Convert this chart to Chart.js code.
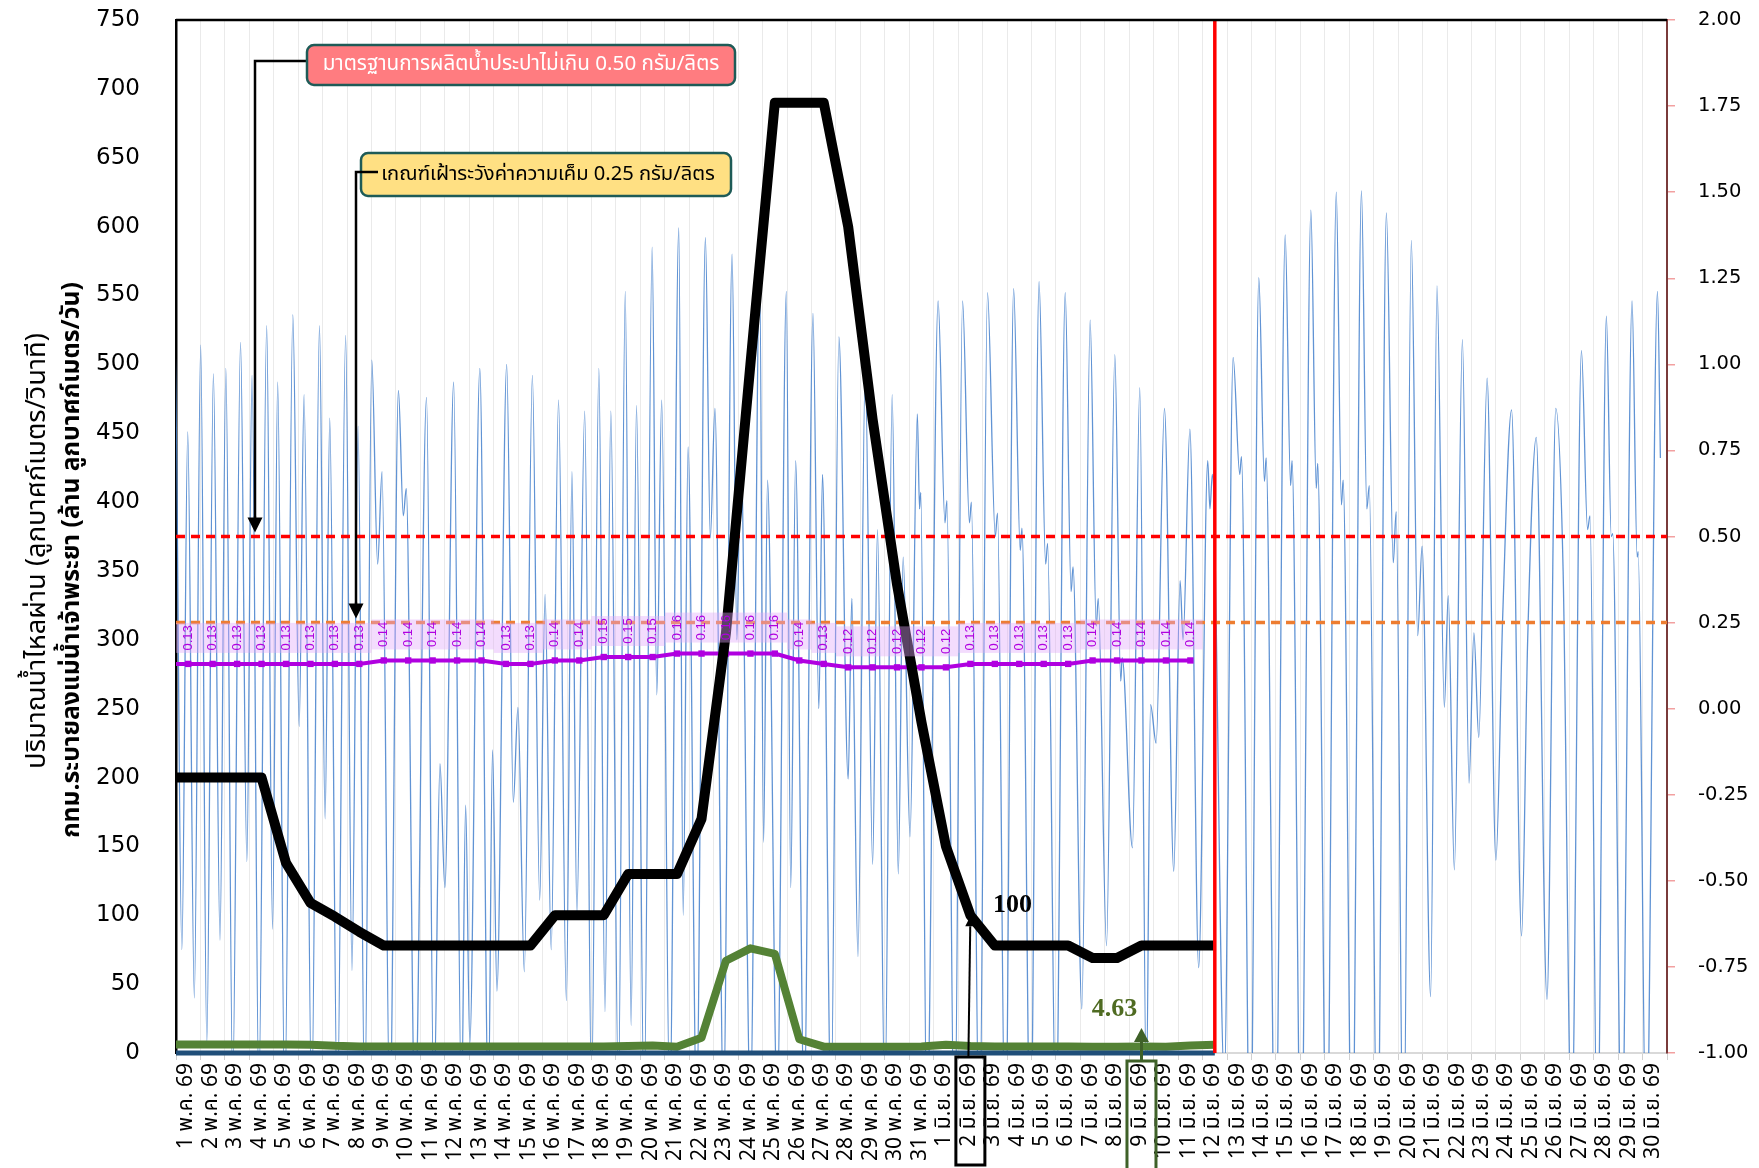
<!DOCTYPE html>
<html><head><meta charset="utf-8">
<script src="https://cdn.jsdelivr.net/npm/chart.js@4.4.1/dist/chart.umd.min.js"></script>
<style>html,body{margin:0;padding:0;background:#fff;}#wrap{width:1759px;height:1168px;position:relative;}</style>
</head><body><div id="wrap"><canvas id="c"></canvas></div>
<script>
// ---------------- DATA ----------------
const categories = [
 '1 พ.ค. 69','2 พ.ค. 69','3 พ.ค. 69','4 พ.ค. 69','5 พ.ค. 69','6 พ.ค. 69','7 พ.ค. 69','8 พ.ค. 69','9 พ.ค. 69','10 พ.ค. 69',
 '11 พ.ค. 69','12 พ.ค. 69','13 พ.ค. 69','14 พ.ค. 69','15 พ.ค. 69','16 พ.ค. 69','17 พ.ค. 69','18 พ.ค. 69','19 พ.ค. 69','20 พ.ค. 69',
 '21 พ.ค. 69','22 พ.ค. 69','23 พ.ค. 69','24 พ.ค. 69','25 พ.ค. 69','26 พ.ค. 69','27 พ.ค. 69','28 พ.ค. 69','29 พ.ค. 69','30 พ.ค. 69','31 พ.ค. 69',
 '1 มิ.ย. 69','2 มิ.ย. 69','3 มิ.ย. 69','4 มิ.ย. 69','5 มิ.ย. 69','6 มิ.ย. 69','7 มิ.ย. 69','8 มิ.ย. 69','9 มิ.ย. 69','10 มิ.ย. 69',
 '11 มิ.ย. 69','12 มิ.ย. 69','13 มิ.ย. 69','14 มิ.ย. 69','15 มิ.ย. 69','16 มิ.ย. 69','17 มิ.ย. 69','18 มิ.ย. 69','19 มิ.ย. 69','20 มิ.ย. 69',
 '21 มิ.ย. 69','22 มิ.ย. 69','23 มิ.ย. 69','24 มิ.ย. 69','25 มิ.ย. 69','26 มิ.ย. 69','27 มิ.ย. 69','28 มิ.ย. 69','29 มิ.ย. 69','30 มิ.ย. 69'
];
// daily discharge (m3/s), 1 May .. 12 Jun
const dischargeCMS = [200,200,200,200,138,109,99,88,78,78,78,78,78,78,78,100,100,100,130,130,130,170,305,500,690,690,690,600,460,340,240,150,100,78,78,78,78,69,69,78,78,78,78];
// BKK drainage (million m3/day)
const bkkDrainMCM = [6.2,6.2,6.2,6.2,6.2,6.0,5.2,4.8,4.7,4.7,4.7,4.7,4.7,4.7,4.7,4.7,4.7,4.8,5.0,5.5,4.6,11,67,76,72,10,4.6,4.6,4.6,4.6,4.8,6.0,5.0,4.8,4.8,4.7,4.7,4.6,4.6,4.63,4.6,5.5,6.0];
const otherDrainMCM = [0,0,0,0,0,0,0,0,0,0,0,0,0,0,0,0,0,0,0,0,0,0,0,0,0,0,0,0,0,0,0,0,0,0,0,0,0,0,0,0,0,0,0];
// salinity (g/L), 1 May .. 11 Jun
const salinityGL = [0.13,0.13,0.13,0.13,0.13,0.13,0.13,0.13,0.14,0.14,0.14,0.14,0.14,0.13,0.13,0.14,0.14,0.15,0.15,0.15,0.16,0.16,0.16,0.16,0.16,0.14,0.13,0.12,0.12,0.12,0.12,0.12,0.13,0.13,0.13,0.13,0.13,0.14,0.14,0.14,0.14,0.14];
// values of 30 Apr 69 (line enters from the left edge)
const prevDischarge = 200, prevDrain = 6.2, prevOther = 0, prevSalinity = 0.13;
// tidal flow turning points: time (days from 1 May 00:00) and flow (m3/s)
const tideTime = [
-0.33,-0.06,0.24,0.48,0.75,1.01,1.26,1.53,1.80,2.04,2.32,2.64,2.90,3.11,3.39,3.71,3.95,4.16,4.45,4.78,5.04,5.24,5.55,5.87,6.10,6.29,6.60,6.94,7.20,7.45,7.72,8.01,8.25,8.43,8.75,9.10,9.30,9.42,9.78,
10.25,10.55,10.80,11.00,11.36,11.68,11.85,12.02,12.43,12.78,12.95,13.13,13.53,13.80,13.99,14.25,14.58,14.88,15.10,15.35,15.65,15.97,16.20,16.40,16.72,17.00,17.30,17.55,17.79,18.10,18.38,18.62,18.84,19.15,19.48,19.67,19.87,20.20,20.57,20.75,20.95,21.30,21.66,21.86,22.05,22.40,22.75,22.95,23.10,23.50,23.88,24.04,24.20,24.60,24.97,25.15,25.35,25.70,26.06,26.30,26.45,26.80,27.12,27.50,27.65,27.90,28.20,28.50,28.70,29.00,29.30,29.55,29.75,30.03,
30.33,30.42,30.47,30.72,31.18,31.46,31.54,31.85,32.18,32.46,32.54,32.87,33.20,33.52,33.61,33.93,34.27,34.54,34.61,34.96,35.31,35.58,35.66,36.00,36.38,36.62,36.70,37.06,37.40,37.65,37.73,38.07,38.41,38.65,38.71,39.13,39.43,39.70,39.87,40.10,40.44,40.82,41.08,41.20,41.48,41.84,42.21,42.30,42.40,42.89,
43.25,43.52,43.59,43.95,44.30,44.53,44.60,44.98,45.38,45.60,45.66,46.03,46.43,46.65,46.71,47.08,47.47,47.68,47.75,48.12,48.50,48.72,48.82,49.15,49.52,49.80,49.92,50.22,50.54,50.80,50.98,51.33,51.59,51.89,52.05,52.30,52.63,52.90,53.10,53.30,53.64,54.00,54.28,54.64,55.05,55.30,55.65,56.09,56.45,56.75,57.10,57.50,57.75,57.85,58.15,58.52,58.72,58.78,59.15,59.57,59.78,59.82,60.15,60.61,60.73
];
const tideFlow = [
40,537,75,451,40,514,7,493,82,497,-25,516,139,492,-30,528,90,487,-40,536,237,478,-40,528,170,461,-45,521,60,455,-45,503,355,422,-50,481,390,410,-50,
476,-40,210,120,487,-40,180,7,497,-40,220,45,500,182,251,59,492,111,333,75,474,38,422,101,466,-30,497,30,466,-30,553,20,470,-40,585,260,474,-40,599,100,440,-40,592,374,468,-40,580,300,449,-40,570,153,416,-40,553,120,430,-40,537,250,420,-40,520,199,330,70,497,137,380,-40,478,130,360,157,
464,395,407,-60,546,385,401,-80,546,385,400,-80,552,375,392,-80,555,365,381,-80,560,355,370,-60,552,335,353,32,532,310,330,78,507,270,287,149,483,-30,253,225,468,132,343,300,453,62,430,395,420,-20,
505,420,433,-100,563,415,432,-100,594,412,430,-100,612,410,428,-100,625,398,416,-100,626,395,412,-100,610,356,393,-100,590,303,368,41,557,251,332,133,518,196,305,229,490,140,318,467,85,300,447,39,468,350,-60,510,380,390,-80,535,375,377,-80,546,360,364,-80,553,432
];
const salinityStandard = 0.50;   // มาตรฐานการผลิตน้ำประปา
const salinityWatch = 0.25;      // เกณฑ์เฝ้าระวัง
const todayIndex = 42;           // 12 มิ.ย. 69
const leftTickValues = [0,50,100,150,200,250,300,350,400,450,500,550,600,650,700,750];
const rightTickValues = [-1,-0.75,-0.5,-0.25,0,0.25,0.5,0.75,1,1.25,1.5,1.75,2];
const dischargeNoteIndex = 32, dischargeNoteText = '100';
const drainNoteIndex = 39, drainNoteText = '4.63';

// ---------------- STYLE / LAYOUT ----------------
const THAI = 'Tahoma, "Noto Sans Thai", "Leelawadee UI", "DejaVu Sans", sans-serif';
const NUM = '"DejaVu Sans", sans-serif';
const SERIF = '"Liberation Serif", "Times New Roman", serif';
const mctx = document.createElement('canvas').getContext('2d');
function fitSize(text, family, weight, target){ mctx.font = weight+' 40px '+family; return 40*target/mctx.measureText(text).width; }
const xFont = fitSize('1 พ.ค. 69', THAI, 'normal', 86);

const nCat = categories.length;
const daily = (vals, prev) => [{x:-0.5, y:prev}].concat(vals.map((v,i)=>({x:i+0.5, y:v})));
const noPadV = s => { s.paddingTop = 0; s.paddingBottom = 0; };

const purpleLabels = {
  id:'purpleLabels',
  afterDatasetsDraw(chart){
    const ctx = chart.ctx, meta = chart.getDatasetMeta(4);
    const xs = chart.scales.x;
    const w = xs.getPixelForValue(1) - xs.getPixelForValue(0);
    ctx.save();
    ctx.fillStyle = 'rgba(226,168,250,0.40)';
    meta.data.forEach((p,k)=>{ if(k===0) return; ctx.fillRect(p.x - w/2, p.y - 41, w, 30); });
    ctx.fillStyle = '#B000E0'; ctx.font = '13px "Liberation Sans", Arial, sans-serif';
    ctx.textAlign='center'; ctx.textBaseline='middle';
    meta.data.forEach((p,k)=>{ if(k===0) return;
      ctx.save(); ctx.translate(p.x, p.y-26); ctx.rotate(-Math.PI/2);
      ctx.fillText(salinityGL[k-1].toFixed(2), 0, 0); ctx.restore(); });
    ctx.restore();
  }
};

function arrow(ctx, x1,y1,x2,y2, color, lw, hl, hw){
  const a = Math.atan2(y2-y1, x2-x1);
  const bx = x2 - hl*Math.cos(a), by = y2 - hl*Math.sin(a);
  ctx.strokeStyle = color; ctx.fillStyle = color; ctx.lineWidth = lw;
  ctx.beginPath(); ctx.moveTo(x1,y1); ctx.lineTo(bx,by); ctx.stroke();
  ctx.beginPath(); ctx.moveTo(x2,y2);
  ctx.lineTo(bx + hw*Math.sin(a), by - hw*Math.cos(a));
  ctx.lineTo(bx - hw*Math.sin(a), by + hw*Math.cos(a)); ctx.closePath(); ctx.fill();
}

const decorations = {
  id:'decorations',
  beforeDraw(chart){ const c=chart.ctx; c.save(); c.fillStyle='#fff'; c.fillRect(0,0,chart.width,chart.height); c.restore(); },
  afterDraw(chart){
    const ctx = chart.ctx, xs = chart.scales.x, ys = chart.scales.y, y2 = chart.scales.y2, ca = chart.chartArea;
    ctx.save();
    // top frame line
    ctx.strokeStyle='#000'; ctx.lineWidth=2.5; ctx.beginPath(); ctx.moveTo(ca.left, ca.top); ctx.lineTo(ca.right, ca.top); ctx.stroke();

    // left axis titles
    const t1 = 'ปริมาณน้ำไหลผ่าน (ลูกบาศก์เมตร/วินาที)';
    const t2 = 'กทม.ระบายลงแม่น้ำเจ้าพระยา (ล้าน ลูกบาศก์เมตร/วัน)';
    const f1 = fitSize(t1, THAI, 'normal', 436), f2 = fitSize(t2, THAI, 'bold', 556);
    ctx.fillStyle='#000'; ctx.textAlign='center'; ctx.textBaseline='middle';
    ctx.save(); ctx.translate(39, 551); ctx.rotate(-Math.PI/2); ctx.font = f1+'px '+THAI; ctx.fillText(t1,0,0); ctx.restore();
    ctx.save(); ctx.translate(74, 560); ctx.rotate(-Math.PI/2); ctx.font = 'bold '+f2+'px '+THAI; ctx.fillText(t2,0,0); ctx.restore();

    // red standard box + arrow
    const rTip = y2.getPixelForValue(salinityStandard) - 4;
    ctx.strokeStyle='#000'; ctx.lineWidth=2.5;
    ctx.beginPath(); ctx.moveTo(309,61); ctx.lineTo(255,61); ctx.lineTo(255, rTip-14); ctx.stroke();
    arrow(ctx, 255, rTip-16, 255, rTip, '#000', 2.5, 15, 7.5);
    ctx.beginPath(); ctx.roundRect(307,45,428,40,7); ctx.fillStyle='#FF7C80'; ctx.fill();
    ctx.strokeStyle='#1E5B57'; ctx.lineWidth=2.5; ctx.stroke();
    const s1 = 'มาตรฐานการผลิตน้ำประปาไม่เกิน 0.50 กรัม/ลิตร';
    ctx.font = fitSize(s1, THAI, 'normal', 397)+'px '+THAI; ctx.fillStyle='#fff'; ctx.fillText(s1, 521, 66);

    // yellow watch box + arrow
    const yTip = y2.getPixelForValue(salinityWatch) - 4;
    ctx.beginPath(); ctx.roundRect(361,153,370,43,7); ctx.fillStyle='#FFE083'; ctx.fill();
    ctx.strokeStyle='#1E5B57'; ctx.lineWidth=2.5; ctx.stroke();
    const s2 = 'เกณฑ์เฝ้าระวังค่าความเค็ม 0.25 กรัม/ลิตร';
    ctx.font = fitSize(s2, THAI, 'normal', 334)+'px '+THAI; ctx.fillStyle='#000'; ctx.fillText(s2, 548, 176);
    ctx.strokeStyle='#000'; ctx.lineWidth=2.5;
    ctx.beginPath(); ctx.moveTo(378,172); ctx.lineTo(356,172); ctx.lineTo(356, yTip-14); ctx.stroke();
    arrow(ctx, 356, yTip-16, 356, yTip, '#000', 2.5, 15, 7.5);

    // discharge note (100) at 2 Jun
    const dx = xs.getPixelForValue(dischargeNoteIndex+0.5), dy = ys.getPixelForValue(dischargeCMS[dischargeNoteIndex]);
    ctx.strokeStyle='#000'; ctx.lineWidth=3; ctx.strokeRect(dx-14.5, ca.bottom+4, 29, 108);
    arrow(ctx, dx-2, ca.bottom+4, dx, dy+1, '#000', 2, 10, 5);
    ctx.font = 'bold 26px '+SERIF; ctx.fillStyle='#000'; ctx.textAlign='center';
    ctx.fillText(dischargeNoteText, dx+42, dy-10);

    // drainage note (4.63) at 9 Jun
    const gx = xs.getPixelForValue(drainNoteIndex+0.5);
    ctx.strokeStyle='#3F6128'; ctx.lineWidth=3; ctx.strokeRect(gx-14.5, ca.bottom+8, 29, 110);
    arrow(ctx, gx, ca.bottom+8, gx, ca.bottom-25, '#3F6128', 3, 14, 7.5);
    ctx.font = 'bold 26px '+SERIF; ctx.fillStyle='#4F6B22';
    ctx.fillText(drainNoteText, gx-27, ca.bottom-44);
    ctx.restore();
  }
};

const cfg = {
  type:'line',
  data:{ datasets:[
    { label:'today', data:[{x:todayIndex+0.5,y:0},{x:todayIndex+0.5,y:750}], borderColor:'#FF0000', borderWidth:3.5, pointRadius:0, order:0, yAxisID:'y'},
    { label:'other', data:daily(otherDrainMCM, prevOther), borderColor:'#1F4E79', borderWidth:5, pointRadius:0, order:1, yAxisID:'y', clip:{left:0,top:0,right:0,bottom:4}},
    { label:'drain', data:daily(bkkDrainMCM, prevDrain), borderColor:'#548235', borderWidth:8, pointRadius:0, order:2, yAxisID:'y', tension:0, borderJoinStyle:'round'},
    { label:'discharge', data:daily(dischargeCMS, prevDischarge), borderColor:'#000', borderWidth:10, pointRadius:0, order:3, yAxisID:'y', tension:0, borderJoinStyle:'round'},
    { label:'salinity', data:daily(salinityGL, prevSalinity), borderColor:'#B000E0', backgroundColor:'#B000E0', borderWidth:4, pointStyle:'rect', pointRadius:4.5, pointBackgroundColor:'#B000E0', pointBorderWidth:0, order:4, yAxisID:'y2', tension:0},
    { label:'std', data:[{x:0,y:salinityStandard},{x:nCat,y:salinityStandard}], borderColor:'#FF0000', borderWidth:3.5, borderDash:[9,6], pointRadius:0, order:5, yAxisID:'y2'},
    { label:'watch', data:[{x:0,y:salinityWatch},{x:nCat,y:salinityWatch}], borderColor:'#ED7D31', borderWidth:3.5, borderDash:[9,6], pointRadius:0, order:6, yAxisID:'y2'},
    { label:'tide', data:tideTime.map((t,i)=>({x:t,y:tideFlow[i]})), borderColor:'rgba(68,128,205,0.85)', borderWidth:1.3, pointRadius:0, order:7, yAxisID:'y', cubicInterpolationMode:'monotone'}
  ]},
  options:{
    responsive:true, maintainAspectRatio:false, animation:false, devicePixelRatio:1,
    layout:{padding:{top:20,left:0,right:0,bottom:0}},
    plugins:{legend:{display:false}, tooltip:{enabled:false}},
    scales:{
      x:{ type:'linear', min:0, max:nCat, position:'bottom',
        afterBuildTicks:s=>{ s.ticks = Array.from({length:nCat+1},(_,i)=>({value:i})); },
        afterFit:s=>{ s.height = 115; s.paddingLeft = 0; s.paddingRight = 0; },
        grid:{ color:'#EAEAEA', lineWidth:1, drawTicks:true, tickLength:7, tickColor:'#D0D0D0'},
        border:{ color:'#D9D9D9', width:2 },
        ticks:{ autoSkip:false, maxRotation:90, minRotation:90, padding:3, labelOffset:(1491/nCat)/2, color:'#000',
          font:{family:THAI, size:xFont}, callback:(v)=> categories[v] !== undefined ? categories[v] : '' }
      },
      y:{ type:'linear', position:'left', min:0, max:750,
        afterBuildTicks:s=>{ s.ticks = leftTickValues.map(v=>({value:v})); },
        afterFit:s=>{ s.width = 176; noPadV(s); },
        grid:{ display:false, drawTicks:false },
        border:{ display:true, color:'#000', width:2.5 },
        ticks:{ padding:36, color:'#000', font:{family:NUM, size:23} }
      },
      y2:{ type:'linear', position:'right', min:-1, max:2,
        afterBuildTicks:s=>{ s.ticks = rightTickValues.map(v=>({value:v})); },
        afterFit:s=>{ s.width = 92; noPadV(s); },
        grid:{ drawOnChartArea:false, drawTicks:true, tickLength:8, color:'#F2A0A0', lineWidth:1.5 },
        border:{ color:'#7A3B3B', width:2 },
        ticks:{ padding:23, color:'#000', font:{family:NUM, size:19.5}, callback:v=>Number(v).toFixed(2) }
      }
    }
  },
  plugins:[purpleLabels, decorations]
};
new Chart(document.getElementById('c'), cfg);
</script></body></html>
